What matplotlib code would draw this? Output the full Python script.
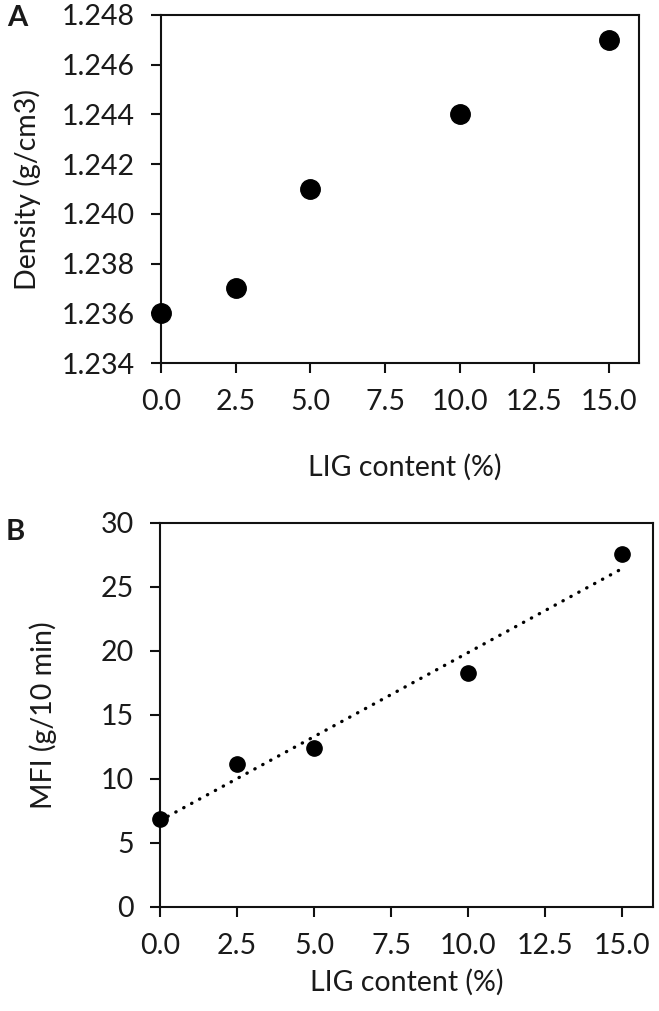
import numpy as np
import matplotlib
matplotlib.use("Agg")
import matplotlib.pyplot as plt

plt.rcParams['font.family'] = ['Lato', 'DejaVu Sans']

lig = [0.0, 2.5, 5.0, 10.0, 15.0]
density = [1.236, 1.237, 1.241, 1.244, 1.247]
mfi = [6.9, 11.2, 12.4, 18.3, 27.6]

x_ticks = [0.0, 2.5, 5.0, 7.5, 10.0, 12.5, 15.0]
x_ticklabels = ["0.0", "2.5", "5.0", "7.5", "10.0", "12.5", "15.0"]
dens_ticks = [1.234, 1.236, 1.238, 1.240, 1.242, 1.244, 1.246, 1.248]
dens_ticklabels = ["1.234", "1.236", "1.238", "1.240", "1.242", "1.244", "1.246", "1.248"]
mfi_ticks = [0, 5, 10, 15, 20, 25, 30]

txt = '#1a1a1a'
fs = 20.5

fig = plt.figure(figsize=(6.59, 10.11), dpi=100)
axA = fig.add_axes([0.2443, 0.6409, 0.9697 - 0.2443, 0.9852 - 0.6409])
axB = fig.add_axes([0.2428, 0.1029, 0.9909 - 0.2428, 0.4827 - 0.1029])

def style(ax):
    for s in ax.spines.values():
        s.set_linewidth(1.5)
        s.set_color('#111111')
    ax.tick_params(direction='out', length=7, width=1.5, pad=12,
                   labelsize=fs, colors='#111111', labelcolor=txt)

# Panel A
axA.plot(lig, density, 'o', color='black', markersize=14, clip_on=False, zorder=5)
axA.set_xlim(0, 16)
axA.set_ylim(1.234, 1.248)
axA.set_xticks(x_ticks)
axA.set_xticklabels(x_ticklabels)
axA.set_yticks(dens_ticks)
axA.set_yticklabels(dens_ticklabels)
style(axA)
axA.set_xlabel("LIG content (%)", fontsize=fs, color=txt)
axA.set_ylabel("Density (g/cm3)", fontsize=fs, color=txt)
axA.xaxis.set_label_coords(0.51, -0.262)
axA.yaxis.set_label_coords(-0.252, 0.5)

# Panel B
coef = np.polyfit(lig, mfi, 1)
xf = np.array([min(lig), max(lig)])
axB.plot(xf, np.polyval(coef, xf), color='black', linewidth=2.4,
         linestyle=(0, (0.1, 2.6)), dash_capstyle='round', zorder=3)
axB.plot(lig, mfi, 'o', color='black', markersize=11, clip_on=False, zorder=5)
axB.set_xlim(0, 16)
axB.set_ylim(0, 30)
axB.set_xticks(x_ticks)
axB.set_xticklabels(x_ticklabels)
axB.set_yticks(mfi_ticks)
style(axB)
axB.set_xlabel("LIG content (%)", fontsize=fs, color=txt)
axB.set_ylabel("MFI (g/10 min)", fontsize=fs, color=txt)
axB.xaxis.set_label_coords(0.5, -0.16)
axB.yaxis.set_label_coords(-0.208, 0.5)

fig.text(17 / 659, 1 - 18 / 1011, "A", fontsize=21, fontweight='bold', color=txt,
         ha='center', va='center')
fig.text(15 / 659, 1 - 532 / 1011, "B", fontsize=21, fontweight='bold', color=txt,
         ha='center', va='center')

fig.savefig("out.png", dpi=100)
